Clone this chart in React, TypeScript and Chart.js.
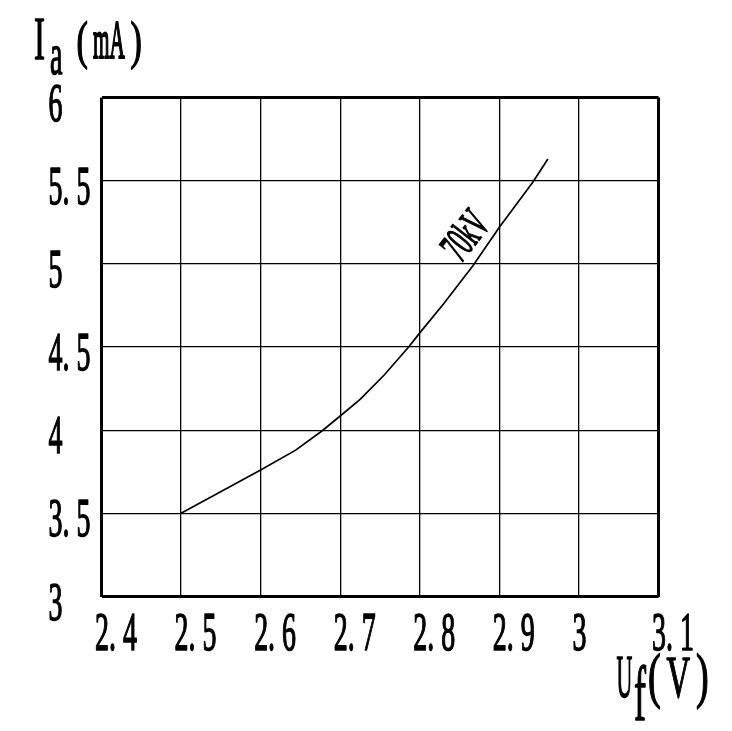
import React, { useEffect, useRef } from "react";
import { Chart, registerables } from "chart.js";

Chart.register(...registerables);

// Filament voltage Uf (V) and anode current Ia (mA) for the 70kV curve
const uf = [2.5, 2.6, 2.644, 2.677, 2.7, 2.725, 2.755, 2.786, 2.8, 2.83, 2.867, 2.9, 2.942, 2.961];
const ia = [3.5, 3.76, 3.88, 3.995, 4.085, 4.185, 4.33, 4.5, 4.585, 4.76, 4.99, 5.22, 5.49, 5.63];

const xTickValues = [2.4, 2.5, 2.6, 2.7, 2.8, 2.9, 3.0, 3.1];
const xTickLabels = ["2. 4", "2. 5", "2. 6", "2. 7", "2. 8", "2. 9", "3", "3. 1"];
const yTickValues = [3, 3.5, 4, 4.5, 5, 5.5, 6];
const yTickLabels = ["3", "3. 5", "4", "4. 5", "5", "5. 5", "6"];

const curveName = "70kV";
const curveNameAt = { x: 2.859, y: 5.163 };

const FONT = '"Liberation Serif", "DejaVu Serif", serif';
const K = 1.3;

// draw text with left edge at x and alphabetic baseline at y, condensed horizontally by sx
function txt(ctx: CanvasRenderingContext2D, text: string, x: number, y: number, size: number, sx: number, weight = 1.5) {
  ctx.save();
  ctx.font = `${Math.round(size * K)}px ${FONT}`;
  ctx.textAlign = "left";
  ctx.textBaseline = "alphabetic";
  ctx.translate(x, y);
  ctx.scale(sx / K, 1);
  ctx.fillText(text, 0, 0);
  ctx.lineWidth = weight;
  ctx.lineJoin = "round";
  ctx.strokeStyle = "#000";
  ctx.strokeText(text, 0, 0);
  ctx.restore();
}

const labelsPlugin = {
  id: "labels",
  afterDraw(chart: any) {
    const ctx: CanvasRenderingContext2D = chart.ctx;
    const xs = chart.scales.x;
    const ys = chart.scales.y;
    ctx.save();
    ctx.fillStyle = "#000";
    xTickValues.forEach((v, i) => {
      txt(ctx, xTickLabels[i], xs.getPixelForValue(v) - 6.5, 650, 42, 0.66);
    });
    yTickValues.forEach((v, i) => {
      txt(ctx, yTickLabels[i], 48.5, ys.getPixelForValue(v) + 23, 42, 0.66);
    });
    // y-axis title: I_a (mA)
    txt(ctx, "I", 34, 59, 48, 0.69);
    txt(ctx, "a", 50, 73.5, 45, 0.62);
    txt(ctx, "(", 76.5, 57.5, 40, 0.85);
    txt(ctx, "mA", 93, 58, 42, 0.5, 2.2);
    txt(ctx, ")", 130.5, 57.5, 40, 0.85);
    // x-axis title: U_f (V)
    txt(ctx, "U", 616.5, 697, 48, 0.46);
    txt(ctx, "f", 634, 720, 60, 0.6);
    txt(ctx, "(", 648, 696, 48, 0.8);
    txt(ctx, "V", 666.5, 697, 45, 0.72);
    txt(ctx, ")", 696, 696, 48, 0.8);
    // curve label, rotated along the curve
    const px = xs.getPixelForValue(curveNameAt.x);
    const py = ys.getPixelForValue(curveNameAt.y);
    ctx.translate(px, py);
    ctx.rotate((-52 * Math.PI) / 180);
    ctx.scale(0.66 / K, 1);
    ctx.font = `${Math.round(34 * K)}px ${FONT}`;
    ctx.textAlign = "center";
    ctx.textBaseline = "alphabetic";
    ctx.fillText(curveName, 0, 12);
    ctx.lineWidth = 1.5;
    ctx.strokeStyle = "#000";
    ctx.strokeText(curveName, 0, 12);
    ctx.restore();
  },
};

export default function App() {
  const ref = useRef<HTMLCanvasElement>(null);
  useEffect(() => {
    document.body.style.margin = "0";
    const canvas = ref.current!;
    const edgeWidth = (count: number) => (c: any) => (c.index === 0 || c.index === count - 1 ? 3 : 1.3);
    const chart = new Chart(canvas, {
      type: "line",
      data: {
        datasets: [
          {
            data: uf.map((x, i) => ({ x, y: ia[i] })),
            borderColor: "#000",
            borderWidth: 1.7,
            pointRadius: 0,
            fill: false,
            tension: 0,
          },
        ],
      },
      options: {
        animation: false,
        responsive: false,
        devicePixelRatio: 1,
        layout: { padding: { left: 101.5, right: 73.5, top: 97.5, bottom: 134.5 } },
        plugins: { legend: { display: false }, tooltip: { enabled: false } },
        scales: {
          x: {
            type: "linear",
            min: 2.4,
            max: 3.1,
            afterBuildTicks: (s: any) => {
              s.ticks = xTickValues.map((value) => ({ value }));
            },
            ticks: { display: false },
            border: { display: false },
            grid: { color: "#000", lineWidth: edgeWidth(xTickValues.length), drawTicks: false },
          },
          y: {
            type: "linear",
            min: 3,
            max: 6,
            afterBuildTicks: (s: any) => {
              s.ticks = yTickValues.map((value) => ({ value }));
            },
            ticks: { display: false },
            border: { display: false },
            grid: { color: "#000", lineWidth: edgeWidth(yTickValues.length), drawTicks: false },
          },
        },
      } as any,
      plugins: [labelsPlugin],
    });
    return () => chart.destroy();
  }, []);
  return (
    <div style={{ position: "absolute", left: 0, top: 0, width: 732, height: 731, background: "#fff" }}>
      <canvas ref={ref} width={732} height={731} style={{ width: 732, height: 731, display: "block" }} />
    </div>
  );
}
